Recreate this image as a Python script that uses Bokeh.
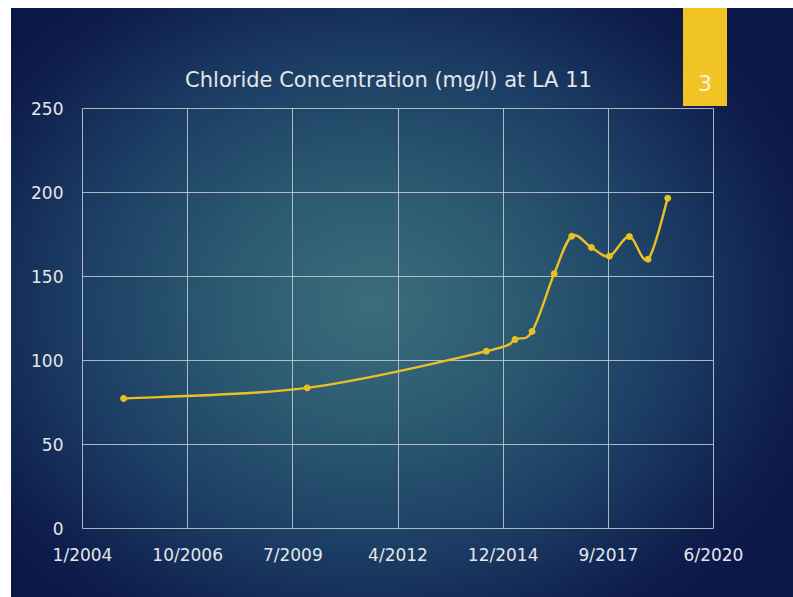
import numpy as np
import pandas as pd
from bokeh.plotting import figure
from bokeh.layouts import column
from bokeh.models import FixedTicker, ColumnDataSource, Range1d
from bokeh.embed import file_html
from bokeh.resources import INLINE
from bokeh.core.properties import value

# ---- data ----
dates = ["2005-02-09", "2009-11-21", "2014-07-21", "2015-04-20", "2015-09-29",
         "2016-04-26", "2016-10-10", "2017-04-15", "2017-10-03", "2018-04-11",
         "2018-10-06", "2019-04-11"]
chloride = [77.4, 83.7, 105.5, 112.5, 117.3, 151.6, 174.0, 167.3, 162.1, 173.8, 160.3, 196.6]
x_tick_dates = ["2004-01-15", "2006-10-11", "2009-07-07", "2012-04-02",
                "2014-12-28", "2017-09-23", "2020-06-19"]
x_tick_labels = ["1/2004", "10/2006", "7/2009", "4/2012", "12/2014", "9/2017", "6/2020"]
y_ticks = [0, 50, 100, 150, 200, 250]
title_text = "Chloride Concentration (mg/l) at LA 11"
slide_number = "3"

FONT = "DejaVu Sans"
TXT = "#e4e6ea"
LINE = "#ecc024"
W, H, HEADER_H = 793, 597, 98
FL, FR = 82, 80   # frame borders left / right

def to_ms(s):
    return pd.Timestamp(s).value / 1e6

xs = np.array([to_ms(d) for d in dates])
ys = np.array(chloride, dtype=float)
tick_ms = [to_ms(d) for d in x_tick_dates]

# ---- header (title + slide number) ----
hdr = figure(width=W, height=HEADER_H, output_backend="svg", toolbar_location=None,
             x_range=Range1d(FL, W - FR), y_range=Range1d(HEADER_H, 0),
             x_axis_location=None, y_axis_location=None,
             min_border_left=FL, min_border_right=FR, min_border_top=0,
             min_border_bottom=0)
hdr.border_fill_color = None
hdr.background_fill_color = None
hdr.outline_line_color = None
hdr.grid.visible = False
hdr.text(x=[388], y=[79], text=[title_text], text_font=value(FONT),
         text_font_size="21px", text_color=TXT, text_align="center",
         text_baseline="middle")
hdr.text(x=[704.5], y=[82], text=[slide_number], text_font=value(FONT),
         text_font_size="22px", text_color="#fbf5dc", text_align="center",
         text_baseline="middle")

# ---- chart ----
p = figure(width=W, height=H - HEADER_H, output_backend="svg", toolbar_location=None,
           x_axis_type="datetime",
           x_range=(tick_ms[0], tick_ms[-1]), y_range=(0, 250),
           min_border_left=FL, min_border_right=FR, min_border_top=10,
           min_border_bottom=69)
p.border_fill_color = None
p.background_fill_color = None
p.outline_line_color = "#c9ccd3"
p.outline_line_alpha = 0.85
p.outline_line_width = 1

p.xaxis.ticker = FixedTicker(ticks=tick_ms)
p.xaxis.major_label_overrides = {t: l for t, l in zip(tick_ms, x_tick_labels)}
p.yaxis.ticker = FixedTicker(ticks=y_ticks)
for ax in (p.xaxis, p.yaxis):
    ax.axis_line_color = None
    ax.major_tick_line_color = None
    ax.minor_tick_line_color = None
    ax.major_tick_out = 0
    ax.major_tick_in = 0
    ax.minor_tick_out = 0
    ax.major_label_text_font = FONT
    ax.major_label_text_font_size = "17px"
    ax.major_label_text_color = TXT
p.xaxis.major_label_standoff = 16
p.yaxis.major_label_standoff = 19

p.grid.grid_line_color = "#c9ccd3"
p.grid.grid_line_alpha = 0.85
p.grid.grid_line_width = 1

# smoothed line (Catmull-Rom style beziers, like a spreadsheet smoothed line)
n = len(xs)
x0, y0, x1, y1, cx0, cy0, cx1, cy1 = [], [], [], [], [], [], [], []
for i in range(n - 1):
    pm = i - 1 if i > 0 else i
    pp = i + 2 if i + 2 < n else i + 1
    x0.append(xs[i]); y0.append(ys[i]); x1.append(xs[i + 1]); y1.append(ys[i + 1])
    cx0.append(xs[i] + (xs[i + 1] - xs[pm]) / 6.0)
    cy0.append(ys[i] + (ys[i + 1] - ys[pm]) / 6.0)
    cx1.append(xs[i + 1] - (xs[pp] - xs[i]) / 6.0)
    cy1.append(ys[i + 1] - (ys[pp] - ys[i]) / 6.0)
bsrc = ColumnDataSource(dict(x0=x0, y0=y0, x1=x1, y1=y1, cx0=cx0, cy0=cy0, cx1=cx1, cy1=cy1))
p.bezier(x0="x0", y0="y0", x1="x1", y1="y1", cx0="cx0", cy0="cy0", cx1="cx1", cy1="cy1",
         source=bsrc, line_color=LINE, line_width=2.4)
p.scatter(xs, ys, size=6, color=LINE)

layout = column(hdr, p, spacing=0)
layout.styles = {
    "background": (
        "linear-gradient(#ffffff,#ffffff) 0px 0px / 100% 8px no-repeat, "
        "linear-gradient(#ffffff,#ffffff) 0px 0px / 11px 100% no-repeat, "
        "linear-gradient(#f0c424,#f0c424) 683px 0px / 44px 106px no-repeat, "
        "radial-gradient(ellipse 62% 68% at 47% 51%, #3b6d7c 0%, #2c5a71 30%, #1c3e64 60%, #0e1d4c 88%, #0b1746 100%)"
    )
}

open("out.html", "w").write(file_html(layout, INLINE))
